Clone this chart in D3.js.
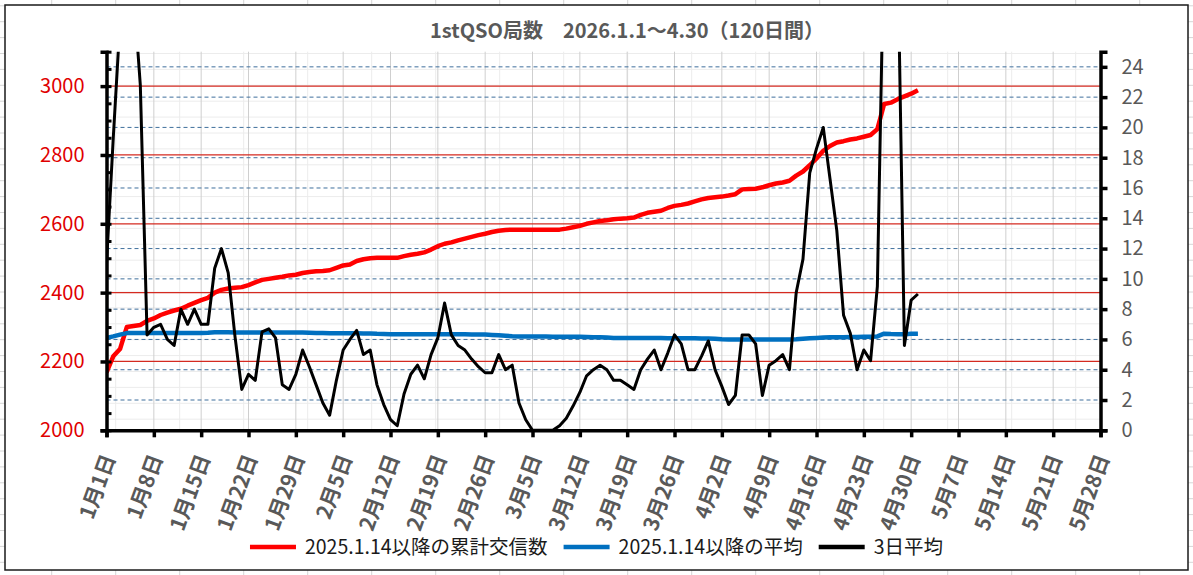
<!DOCTYPE html>
<html>
<head>
<meta charset="utf-8">
<script src="https://cdn.jsdelivr.net/npm/d3@7/dist/d3.min.js"></script>
<style>
    body { margin: 0; background: #fff; }
    svg text { font-family: "Noto Sans CJK JP", "Noto Sans", sans-serif; }
</style>
</head>
<body>
<script>
(function(){
    // data, one value per day from 2026-01-01 (121 days)
    var startDate = new Date(2026, 0, 1),
        endDate = new Date(2026, 4, 28);

    var cumulative = [
        2168, 2215, 2236, 2300, 2303, 2306, 2318, 2325, 2335, 2342,
        2348, 2353, 2362, 2370, 2378, 2385, 2400, 2408, 2412, 2414,
        2416, 2422, 2430, 2437, 2440, 2443, 2446, 2450, 2452, 2457,
        2460, 2462, 2463, 2465, 2472, 2479, 2482, 2492, 2497, 2500,
        2501, 2501, 2501, 2501, 2506, 2510, 2513, 2517, 2525, 2535,
        2542, 2546, 2552, 2557, 2562, 2567, 2571, 2576, 2580, 2582,
        2583, 2583, 2583, 2583, 2583, 2583, 2583, 2583, 2586, 2590,
        2594, 2600, 2604, 2608, 2610, 2613, 2615, 2616, 2618, 2626,
        2632, 2635, 2638, 2646, 2652, 2655, 2659, 2665, 2671, 2675,
        2677, 2679, 2682, 2686, 2700, 2701, 2702, 2706, 2712, 2717,
        2720, 2725, 2740, 2752, 2770, 2790, 2812, 2826, 2836, 2840,
        2845, 2848, 2853, 2858, 2875, 2948, 2952, 2962, 2970, 2978, 2988
    ];

    var average = [
        6.10, 6.20, 6.32, 6.42, 6.43, 6.43, 6.43, 6.43, 6.43, 6.43,
        6.43, 6.43, 6.43, 6.43, 6.43, 6.44, 6.47, 6.48, 6.47, 6.45,
        6.45, 6.45, 6.45, 6.45, 6.46, 6.46, 6.45, 6.45, 6.45, 6.45,
        6.44, 6.43, 6.42, 6.41, 6.41, 6.41, 6.41, 6.41, 6.40, 6.39,
        6.37, 6.36, 6.35, 6.34, 6.34, 6.34, 6.34, 6.34, 6.34, 6.35,
        6.35, 6.35, 6.34, 6.34, 6.33, 6.33, 6.32, 6.30, 6.27, 6.24,
        6.21, 6.20, 6.20, 6.20, 6.19, 6.19, 6.18, 6.18, 6.17, 6.17,
        6.17, 6.16, 6.15, 6.14, 6.12, 6.10, 6.10, 6.10, 6.09, 6.09,
        6.09, 6.09, 6.09, 6.08, 6.08, 6.08, 6.08, 6.08, 6.07, 6.06,
        6.05, 6.02, 6.00, 6.00, 6.00, 6.00, 6.00, 6.00, 6.00, 6.00,
        6.00, 6.00, 6.02, 6.05, 6.08, 6.10, 6.12, 6.14, 6.15, 6.15,
        6.16, 6.16, 6.17, 6.18, 6.20, 6.38, 6.36, 6.35, 6.35, 6.37, 6.38
    ];

    var avg3 = [
        11, 19.3, 27, 31, 29, 22.8, 6.3, 6.8, 7.0, 6.0,
        5.6, 8.0, 7.0, 8.0, 7.0, 7.0, 10.7, 12.0, 10.4, 6.2,
        2.7, 3.7, 3.3, 6.5, 6.7, 6.1, 3.0, 2.7, 3.7, 5.3,
        4.2, 3.0, 1.8, 1.0, 3.3, 5.3, 6.0, 6.6, 5.0, 5.3,
        3.0, 1.7, 0.7, 0.3, 2.4, 3.7, 4.3, 3.4, 5.0, 6.1,
        8.4, 6.3, 5.6, 5.3, 4.7, 4.2, 3.8, 3.8, 5.0, 4.0,
        4.3, 1.8, 0.7, 0, 0, 0, 0, 0.3, 0.8, 1.6,
        2.5, 3.6, 4.0, 4.3, 4.0, 3.3, 3.3, 3.0, 2.7, 4.0,
        4.7, 5.3, 4.0, 5.1, 6.3, 5.7, 4.0, 4.0, 4.9, 5.9,
        4.0, 2.9, 1.7, 2.3, 6.3, 6.3, 5.7, 2.3, 4.3, 4.6,
        5.0, 4.0, 9.1, 11.3, 17.0, 18.6, 20.0, 16.6, 13.2, 7.6,
        6.4, 4.0, 5.3, 4.6, 9.5, 33, 35, 32, 5.6, 8.6, 9.0
    ];

    var leftTicks = [2000, 2200, 2400, 2600, 2800, 3000];
    var rightTicks = [0, 2, 4, 6, 8, 10, 12, 14, 16, 18, 20, 22, 24];
    var titleText = "1stQSO局数　2026.1.1～4.30（120日間）";
    var legendNames = ["2025.1.14以降の累計交信数", "2025.1.14以降の平均", "3日平均"];
    var seriesColors = ["#ff0000", "#0070c0", "#000000"];

    var width = 1193, height = 575;
    var plot = {left: 106.5, right: 1100.5, top: 51.7, bottom: 430.3};

    var svg = d3.select("body")
        .append("svg")
        .attr("width", width)
        .attr("height", height);

    // spreadsheet cells behind the chart
    drawSheetGrid(svg, 0, 0, width, height, "#d6d6d6");

    svg.append("rect")
        .attr("x", 5).attr("y", 5)
        .attr("width", 1183).attr("height", 565)
        .attr("fill", "#fff")
        .attr("stroke", "#1a1a1a")
        .attr("stroke-width", 1.5);

    // plot area is transparent in the original, the cells show faintly
    drawSheetGrid(svg, plot.left, plot.top, plot.right, plot.bottom, "#ececec");

    var x = d3.scaleTime()
        .domain([startDate, endDate])
        .range([plot.left, plot.right]);

    var yLeft = d3.scaleLinear()
        .domain([2000, 3100])
        .range([plot.bottom, plot.top]);

    var yRight = d3.scaleLinear()
        .domain([0, 25])
        .range([plot.bottom, plot.top]);

    var weekTicks = d3.timeDay.range(startDate, d3.timeDay.offset(endDate, 1), 7);
    var dates = cumulative.map(function(d, i){ return d3.timeDay.offset(startDate, i); });

    // gridlines
    svg.append("g").selectAll("line")
        .data(weekTicks.slice(1))
        .enter().append("line")
        .attr("x1", function(d){ return x(d); })
        .attr("x2", function(d){ return x(d); })
        .attr("y1", plot.top).attr("y2", plot.bottom)
        .attr("stroke", "#cfcfcf").attr("stroke-width", 1);

    svg.append("g").selectAll("line")
        .data(rightTicks.slice(1))
        .enter().append("line")
        .attr("x1", plot.left).attr("x2", plot.right)
        .attr("y1", function(d){ return yRight(d); })
        .attr("y2", function(d){ return yRight(d); })
        .attr("stroke", "#3f6f9c").attr("stroke-width", 1)
        .attr("stroke-dasharray", "4,3");

    svg.append("g").selectAll("line")
        .data(leftTicks.slice(1))
        .enter().append("line")
        .attr("x1", plot.left).attr("x2", plot.right)
        .attr("y1", function(d){ return yLeft(d); })
        .attr("y2", function(d){ return yLeft(d); })
        .attr("stroke", "#d42a20").attr("stroke-width", 1.2);

    // series, clipped at the plot area
    svg.append("clipPath").attr("id", "plotClip")
        .append("rect")
        .attr("x", plot.left).attr("y", plot.top)
        .attr("width", plot.right - plot.left)
        .attr("height", plot.bottom - plot.top);

    var lines = svg.append("g").attr("clip-path", "url(#plotClip)");

    var lineLeft = d3.line()
        .x(function(d, i){ return x(dates[i]); })
        .y(function(d){ return yLeft(d); });

    var lineRight = d3.line()
        .x(function(d, i){ return x(dates[i]); })
        .y(function(d){ return yRight(d); });

    lines.append("path").datum(cumulative)
        .attr("d", lineLeft)
        .attr("fill", "none").attr("stroke", seriesColors[0])
        .attr("stroke-width", 4.5).attr("stroke-linejoin", "round");

    lines.append("path").datum(average)
        .attr("d", lineRight)
        .attr("fill", "none").attr("stroke", seriesColors[1])
        .attr("stroke-width", 4.5).attr("stroke-linejoin", "round");

    lines.append("path").datum(avg3)
        .attr("d", lineRight)
        .attr("fill", "none").attr("stroke", seriesColors[2])
        .attr("stroke-width", 3).attr("stroke-linejoin", "round");

    // left axis: major ticks out, minor ticks in
    var leftAxis = svg.append("g")
        .attr("transform", "translate(" + plot.left + ",0)")
        .call(d3.axisLeft(yLeft).tickValues(leftTicks).tickSize(6).tickPadding(16)
            .tickFormat(d3.format("d")));
    svg.append("g")
        .attr("transform", "translate(" + plot.left + ",0)")
        .call(d3.axisRight(yLeft).tickValues(d3.range(2000, 3101, 50)).tickSize(5).tickFormat(""))
        .call(function(g){ g.select(".domain").remove(); })
        .selectAll("line").attr("stroke-width", 3);
    leftAxis.select(".domain").attr("stroke-width", 3.5);
    leftAxis.selectAll("line").attr("stroke-width", 3.5);
    leftAxis.selectAll("text")
        .attr("fill", "#e00000")
        .style("font-size", "20px");

    // right axis
    var rightAxis = svg.append("g")
        .attr("transform", "translate(" + plot.right + ",0)")
        .call(d3.axisRight(yRight).tickValues(rightTicks).tickSize(7).tickPadding(14));
    rightAxis.select(".domain").attr("stroke-width", 3.5);
    rightAxis.selectAll("line").attr("stroke-width", 3.5);
    rightAxis.selectAll("text")
        .attr("fill", "#595959")
        .style("font-size", "20px");

    // bottom axis with slanted date labels
    var bottomAxis = svg.append("g")
        .attr("transform", "translate(0," + plot.bottom + ")")
        .call(d3.axisBottom(x).tickValues(weekTicks).tickSize(7)
            .tickFormat(d3.timeFormat("%-m月%-d日")));
    bottomAxis.select(".domain").attr("stroke-width", 3.5);
    bottomAxis.selectAll("line").attr("stroke-width", 3.5);
    bottomAxis.selectAll("text")
        .attr("y", 0).attr("dy", "0.35em")
        .attr("text-anchor", "end")
        .attr("transform", "translate(2,25) rotate(-70)")
        .attr("fill", "#595959")
        .style("font-size", "21px")
        .style("font-weight", "bold");

    // title
    svg.append("text")
        .attr("x", 627).attr("y", 38)
        .attr("text-anchor", "middle")
        .attr("fill", "#595959")
        .style("font-size", "20px")
        .style("font-weight", "bold")
        .text(titleText);

    // legend, centred in the chart area
    var legend = svg.append("g");
    var cursor = 0;
    legendNames.forEach(function(name, i){
        var item = legend.append("g").attr("transform", "translate(" + cursor + ",0)");
        item.append("line")
            .attr("x1", 0).attr("x2", 46)
            .attr("stroke", seriesColors[i]).attr("stroke-width", 4.5);
        var t = item.append("text")
            .attr("x", 55).attr("dy", "0.36em")
            .attr("fill", "#1a1a1a")
            .style("font-size", "19.5px")
            .text(name);
        cursor += 55 + t.node().getComputedTextLength() + 16;
    });
    var legendWidth = cursor - 16;
    legend.attr("transform", "translate(" + (596.5 - legendWidth / 2) + ",547)");

    function drawSheetGrid(root, x0, y0, x1, y1, color){
        var g = root.append("g").attr("stroke", color).attr("stroke-width", 1);
        g.selectAll(".col")
            .data(d3.range(51.7, width, 64).filter(function(v){ return v > x0 && v < x1; }))
            .enter().append("line")
            .attr("x1", function(d){ return d; }).attr("x2", function(d){ return d; })
            .attr("y1", y0).attr("y2", y1);
        g.selectAll(".row")
            .data(d3.range(5.8, height, 15.9).filter(function(v){ return v > y0 && v < y1; }))
            .enter().append("line")
            .attr("y1", function(d){ return d; }).attr("y2", function(d){ return d; })
            .attr("x1", x0).attr("x2", x1);
    }
})();
</script>
</body>
</html>
